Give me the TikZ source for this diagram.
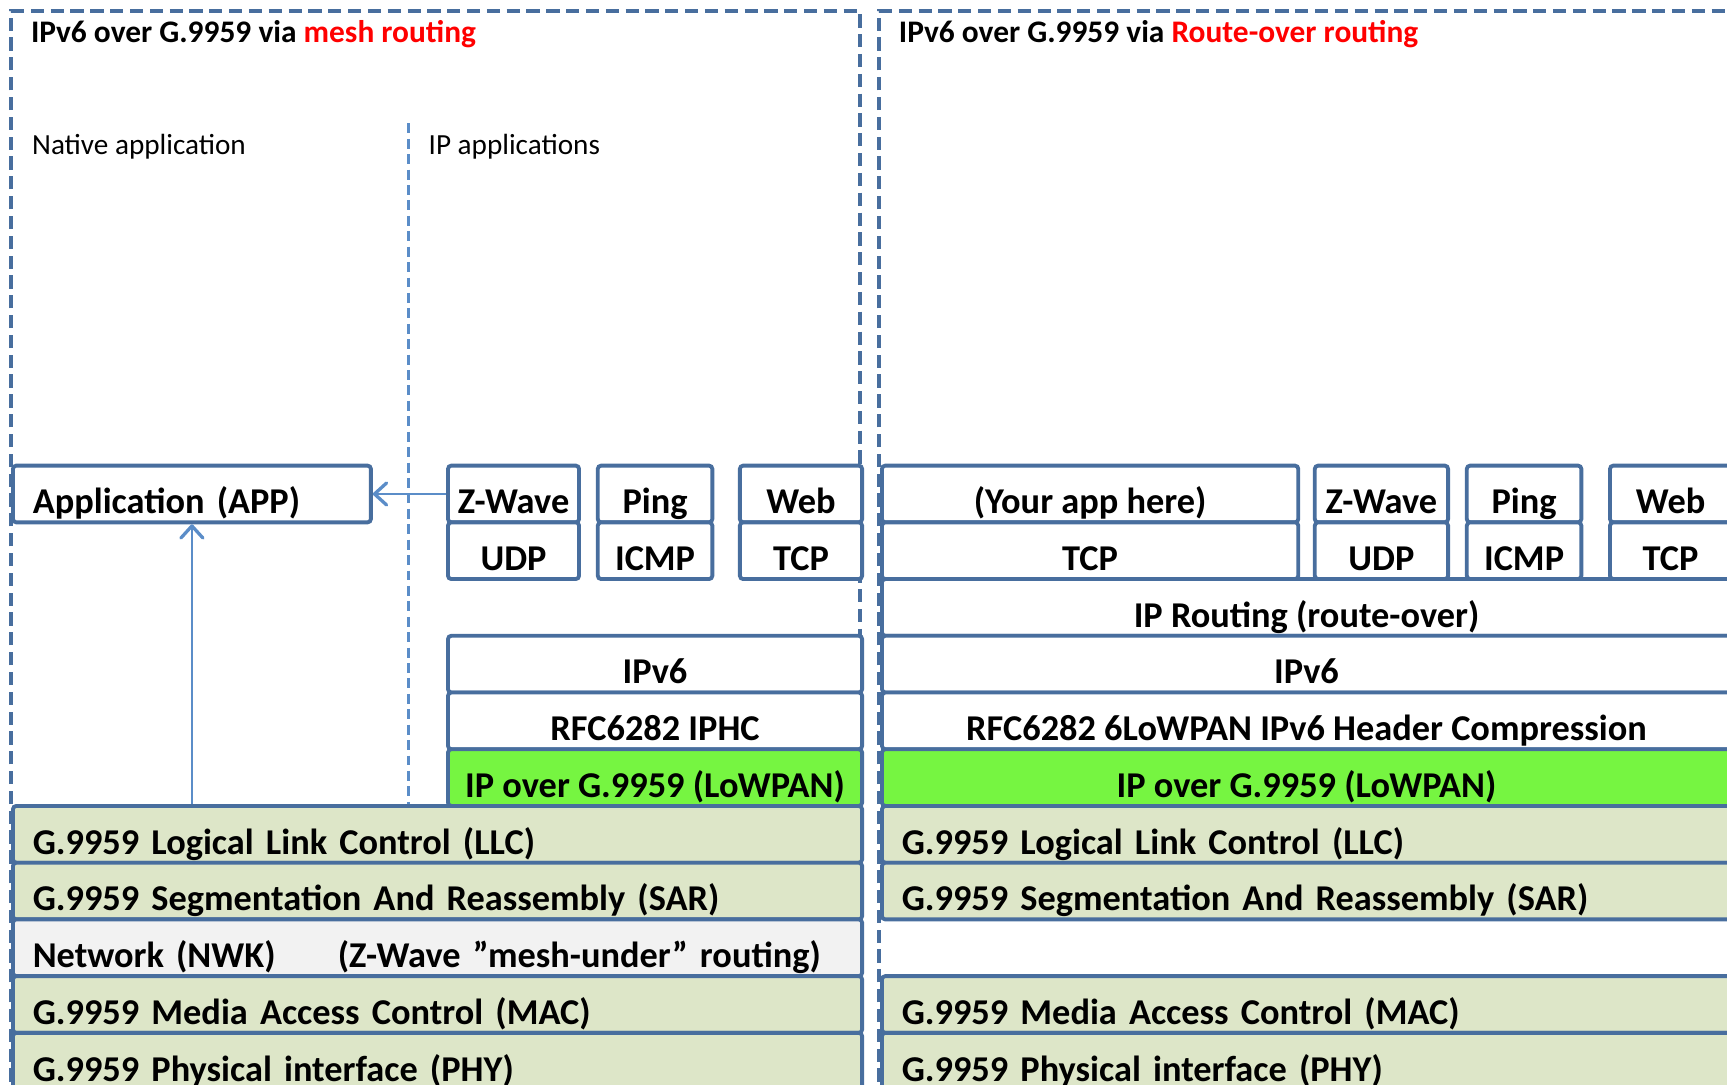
\documentclass[tikz,border=0pt]{standalone}
\usepackage{fontspec}
\setmainfont{Carlito}
\usetikzlibrary{arrows.meta}

\definecolor{boxline}{RGB}{72,110,158}
\definecolor{thinblue}{RGB}{91,141,200}
\definecolor{lowpan}{RGB}{118,245,65}
\definecolor{olive}{RGB}{221,230,200}
\definecolor{nwkgray}{RGB}{242,242,242}

\newcommand\layfont{\fontsize{33}{38}\selectfont\bfseries}
\newcommand\headfont{\fontsize{28.5}{33}\selectfont\bfseries}
\newcommand\labfont{\fontsize{26.5}{31}\selectfont}

\tikzset{
  panel/.style={draw=boxline, line width=3.5pt, dash pattern=on 12pt off 6pt},
  divider/.style={draw=thinblue, line width=2.5pt, dash pattern=on 9pt off 5pt},
  layer/.style={draw=boxline, line width=3.5pt, rounded corners=3pt, fill=white,
    inner sep=0pt, anchor=north west, minimum height=51.5pt,
    text height=36pt, text depth=0pt, font=\layfont},
  wide/.style={layer, minimum width=771pt},
  llayer/.style={layer, align=left, text width=735pt, inner xsep=18pt},
  link/.style={thinblue, line width=1.5pt,
    -{Straight Barb[length=11pt,width=20pt,line width=3pt,round]}},
}

\begin{document}
\begin{tikzpicture}[x=1pt,y=-1pt]
\useasboundingbox (0,0) rectangle (1568,985);
\clip (0,0) rectangle (1568,985);

% dashed panels
\draw[panel] (10,1000) -- (10,10) -- (781,10) -- (781,1000);
\draw[panel] (798,1000) -- (798,10) -- (1600,10);
\draw[divider] (371,112) -- (371,730);

\node[anchor=base west, inner sep=0pt, font=\headfont] (titleL) at (28,39)
  {IPv6 over G.9959 via \textcolor{red}{mesh routing}};
\node[anchor=base west, inner sep=0pt, font=\headfont] (titleR) at (816,39)
  {IPv6 over G.9959 via \textcolor{red}{Route-over routing}};
\node[anchor=base west, inner sep=0pt, font=\labfont] (nat) at (29,140) {Native application};
\node[anchor=base west, inner sep=0pt, font=\labfont] (ipapp) at (389,140) {IP applications};

% mesh routing stack
\node[layer, align=left, text width=289pt, inner xsep=18pt] (appL) at (10,421) {Application (APP)};
\node[layer, minimum width=119pt] (zwL) at (405,421) {Z-Wave};
\node[layer, minimum width=119pt] (udpL) at (405,472.5) {UDP};
\node[layer, minimum width=104pt] (pingL) at (541,421) {Ping};
\node[layer, minimum width=104pt] (icmpL) at (541,472.5) {ICMP};
\node[layer, minimum width=111pt] (webL) at (670,421) {Web};
\node[layer, minimum width=111pt] (tcpL) at (670,472.5) {TCP};
\node[layer, minimum width=376pt] (ipvL) at (405,575.5) {IPv6};
\node[layer, minimum width=376pt] (iphcL) at (405,627) {RFC6282 IPHC};
\node[layer, minimum width=376pt, fill=lowpan] (lowL) at (405,678.5) {IP over G.9959 (LoWPAN)};
\node[llayer, fill=olive] (llcL) at (10,730) {G.9959 Logical Link Control (LLC)};
\node[llayer, fill=olive] (sarL) at (10,781.5) {G.9959 Segmentation And Reassembly (SAR)};
\node[llayer, fill=nwkgray] (nwkL) at (10,833)
  {\makebox[277pt][l]{Network (NWK)}(Z-Wave ”mesh-under” routing)};
\node[llayer, fill=olive] (macL) at (10,884.5) {G.9959 Media Access Control (MAC)};
\node[llayer, fill=olive] (phyL) at (10,936) {G.9959 Physical interface (PHY)};

\draw[link] (zwL.west) -- (appL.east);
\draw[link] (appL.south |- llcL.north) -- (appL.south);

% route-over stack
\node[layer, minimum width=378pt] (appR) at (799,421) {(Your app here)};
\node[layer, minimum width=378pt] (tcpR) at (799,472.5) {TCP};
\node[layer, minimum width=121pt] (zwR) at (1192,421) {Z-Wave};
\node[layer, minimum width=121pt] (udpR) at (1192,472.5) {UDP};
\node[layer, minimum width=104pt] (pingR) at (1330,421) {Ping};
\node[layer, minimum width=104pt] (icmpR) at (1330,472.5) {ICMP};
\node[layer, minimum width=110pt] (webR) at (1460,421) {Web};
\node[layer, minimum width=110pt] (tcpwR) at (1460,472.5) {TCP};
\node[wide] (routeR) at (799,524) {IP Routing (route-over)};
\node[wide] (ipvR) at (799,575.5) {IPv6};
\node[wide] (iphcR) at (799,627) {RFC6282 6LoWPAN IPv6 Header Compression};
\node[wide, fill=lowpan] (lowR) at (799,678.5) {IP over G.9959 (LoWPAN)};
\node[llayer, fill=olive] (llcR) at (799,730) {G.9959 Logical Link Control (LLC)};
\node[llayer, fill=olive] (sarR) at (799,781.5) {G.9959 Segmentation And Reassembly (SAR)};
\node[llayer, fill=olive] (macR) at (799,884.5) {G.9959 Media Access Control (MAC)};
\node[llayer, fill=olive] (phyR) at (799,936) {G.9959 Physical interface (PHY)};
\end{tikzpicture}
\end{document}
